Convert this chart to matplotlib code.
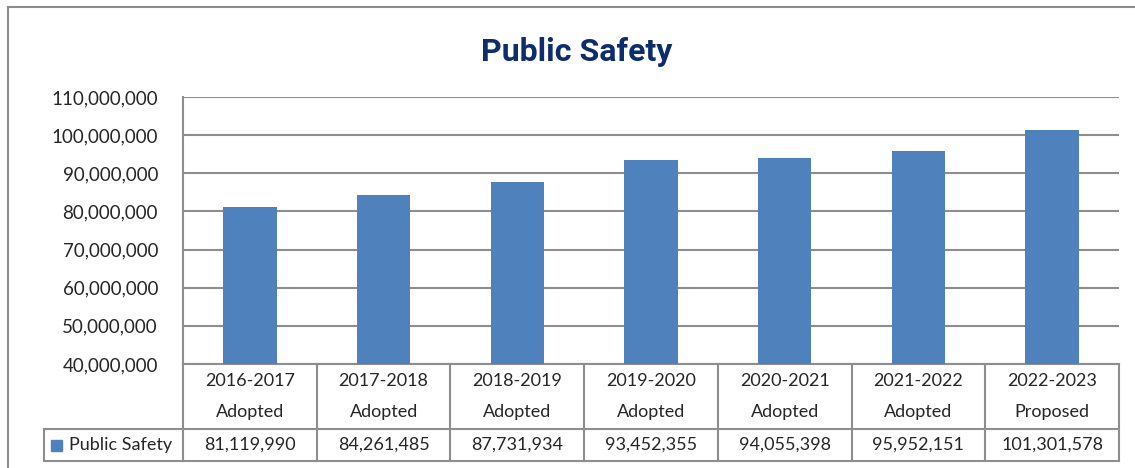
import matplotlib
matplotlib.use("Agg")
import matplotlib.pyplot as plt
from matplotlib.lines import Line2D
from matplotlib.patches import Rectangle
import matplotlib.transforms as mtransforms

# ---- data ----
years = ["2016-2017", "2017-2018", "2018-2019", "2019-2020", "2020-2021", "2021-2022", "2022-2023"]
status = ["Adopted", "Adopted", "Adopted", "Adopted", "Adopted", "Adopted", "Proposed"]
values = [81119990, 84261485, 87731934, 93452355, 94055398, 95952151, 101301578]
series_name = "Public Safety"
title = "Public Safety"
yticks = [40000000, 50000000, 60000000, 70000000, 80000000, 90000000, 100000000, 110000000]

W, H = 1135, 468
fig = plt.figure(figsize=(W / 100, H / 100), dpi=100)
fig.patch.set_facecolor("white")

bar_color = "#4F81BD"
grid_color = "#8E8E8E"
text_color = "#262626"
tfont = "Lato"

# axes in pixels: left 183, right 1119, top 97, bottom 364
ax = fig.add_axes([183 / W, (H - 364) / H, (1119 - 183) / W, (364 - 97) / H])
x = list(range(len(values)))
ax.bar(x, values, width=0.40, color=bar_color, zorder=3)
ax.set_xlim(-0.5, len(values) - 0.5)
ax.set_ylim(yticks[0], yticks[-1])
ax.set_yticks(yticks)
ax.set_yticklabels([f"{v:,}" for v in yticks], fontsize=13.5, color=text_color, family=tfont)
ax.tick_params(axis="y", length=0, pad=18)
ax.set_xticks([])
ax.grid(axis="y", color=grid_color, linewidth=1.5, zorder=0)
for s in ["top", "right", "bottom"]:
    ax.spines[s].set_visible(False)
ax.spines["left"].set_color(grid_color)
ax.spines["left"].set_linewidth(1.5)

# table (x in data coords, y in axes coords)
tr = mtransforms.blended_transform_factory(ax.transData, ax.transAxes)
r1 = (364 - 429) / 267
r2 = (364 - 461) / 267
leg_left = (44 - 183) / (1119 - 183)
lk = dict(color=grid_color, linewidth=1.5, clip_on=False)
# horizontal lines
ax.add_line(Line2D([-0.5, len(values) - 0.5], [0, 0], transform=tr, **lk))
ax.add_line(Line2D([-0.5, len(values) - 0.5], [r2, r2], transform=tr, **lk))
axtr = ax.transAxes
ax.add_line(Line2D([leg_left, 1], [r1, r1], transform=axtr, **lk))
ax.add_line(Line2D([leg_left, 0], [r2, r2], transform=axtr, **lk))
ax.add_line(Line2D([leg_left, leg_left], [r1, r2], transform=axtr, **lk))
# vertical lines
for i in range(len(values) + 1):
    ax.add_line(Line2D([i - 0.5, i - 0.5], [0, r2], transform=tr, **lk))

for i, (yr, st, v) in enumerate(zip(years, status, values)):
    ax.text(i, (364 - 381) / 267, yr, transform=tr, ha="center", va="center",
            fontsize=13, color=text_color, family=tfont)
    ax.text(i, (364 - 412) / 267, st, transform=tr, ha="center", va="center",
            fontsize=13, color=text_color, family=tfont)
    ax.text(i, (364 - 445) / 267, f"{v:,}", transform=tr, ha="center", va="center",
            fontsize=13, color=text_color, family=tfont)

# legend key in table
ax.add_patch(Rectangle(((51 - 183) / 936, (364 - 451) / 267), 11 / 936, 11 / 267,
                       transform=axtr, color=bar_color, clip_on=False))
ax.text((69 - 183) / 936, (364 - 445) / 267, series_name, transform=axtr,
        ha="left", va="center", fontsize=13, color=text_color, family=tfont)

# title
fig.text(577 / W, (H - 52) / H, title, ha="center", va="center", fontsize=23,
         fontweight="bold", color="#0E2D6D", family="Roboto")

# outer chart border
fig.add_artist(Line2D([8 / W, 8 / W], [0, (H - 7) / H], transform=fig.transFigure, color="#8C8C8C", linewidth=1.5))
fig.add_artist(Line2D([8 / W, 1], [(H - 7) / H, (H - 7) / H], transform=fig.transFigure, color="#8C8C8C", linewidth=1.5))

fig.savefig("out.png", dpi=100, facecolor="white")
